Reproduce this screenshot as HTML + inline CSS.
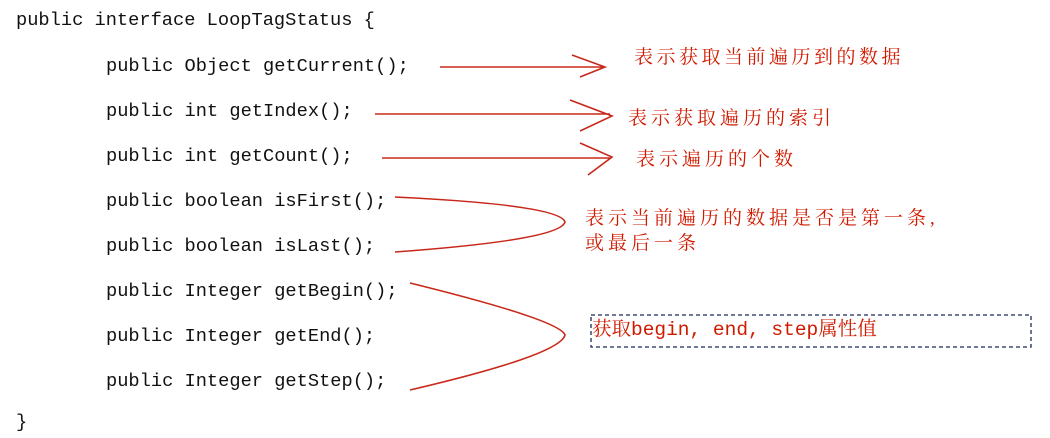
<!DOCTYPE html>
<html><head><meta charset="utf-8"><style>
body{margin:0;width:1050px;height:438px;background:#fff;position:relative;overflow:hidden}
.c{position:absolute;font-family:"Liberation Mono",monospace;font-size:18.7px;color:#111;white-space:pre;line-height:20px}
.r{position:absolute;font-family:"Liberation Serif","Noto Serif CJK SC",serif;font-size:19px;color:#d01a00;white-space:pre;line-height:22px;letter-spacing:4px}
</style></head><body>
<div class="c" style="left:16px;top:10px">public interface LoopTagStatus {</div>
<div class="c" style="left:106px;top:56px">public Object getCurrent();</div>
<div class="c" style="left:106px;top:101px">public int getIndex();</div>
<div class="c" style="left:106px;top:146px">public int getCount();</div>
<div class="c" style="left:106px;top:191px">public boolean isFirst();</div>
<div class="c" style="left:106px;top:236px">public boolean isLast();</div>
<div class="c" style="left:106px;top:281px">public Integer getBegin();</div>
<div class="c" style="left:106px;top:326px">public Integer getEnd();</div>
<div class="c" style="left:106px;top:371px">public Integer getStep();</div>
<div class="c" style="left:16px;top:412px">}</div>
<svg width="1050" height="438" style="position:absolute;left:0;top:0" fill="none" stroke="#c8281a" stroke-width="1.6">
<path d="M440 67H605M572 55L605 67L580 77"/>
<path d="M375 114H610M570 100L612 116L580 131"/>
<path d="M382 158H610M580 143L612 157L588 175"/>
<path d="M395 197Q560 205 565 222Q560 240 395 252"/>
<path d="M410 283Q560 320 565 335Q560 355 410 390"/>
<rect x="591" y="315" width="440" height="32" stroke="#1a2a5a" stroke-width="1.3" stroke-dasharray="4 3"/>
</svg>
<div class="r" style="left:634px;top:47px;letter-spacing:3.5px">表示获取当前遍历到的数据</div>
<div class="r" style="left:628px;top:108px">表示获取遍历的索引</div>
<div class="r" style="left:636px;top:149px">表示遍历的个数</div>
<div class="r" style="left:585px;top:206px;letter-spacing:4px;line-height:25px">表示当前遍历的数据是否是第一条,<br>或最后一条</div>
<div class="r" style="left:592px;top:319px;letter-spacing:0;font-size:19.5px;font-family:'Liberation Mono','Noto Serif CJK SC',monospace">获取begin, end, step属性值</div>
</body></html>
